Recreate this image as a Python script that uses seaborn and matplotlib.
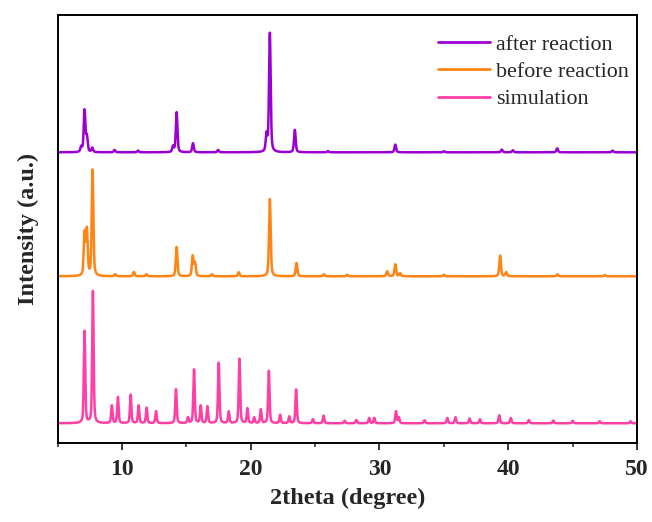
import numpy as np
import pandas as pd
import matplotlib
matplotlib.use("Agg")
import matplotlib.pyplot as plt
import seaborn as sns
from matplotlib.ticker import MultipleLocator

# ---- data (peak position in 2theta, peak height in a.u.) ----
sim_pos = [7.10, 7.75, 9.22, 9.69, 10.68, 11.30, 11.92, 12.65, 14.20, 15.13, 15.60, 16.12,
           16.64, 17.52, 18.30, 19.13, 19.75, 20.27, 20.79, 21.41, 22.29, 23.00, 23.53,
           24.83, 25.66, 27.3, 28.2, 29.2, 29.6, 31.28, 31.5, 33.5, 35.27, 35.9, 37.0,
           37.8, 39.3, 40.2, 41.6, 43.5, 45.0, 47.1, 49.5]
sim_int = [92, 132, 17.7, 26, 28.4, 17.7, 15.4, 12, 34, 5.7, 53.7, 17.4,
           16.7, 60.4, 11.7, 64.4, 14.7, 5.7, 13.7, 52.4, 8.4, 6.7, 33.7,
           4, 7.7, 2.5, 3.3, 5.3, 5.3, 12, 6, 3, 5.3, 6, 4.7,
           4, 8, 5.3, 3.3, 2.7, 2.5, 2, 2]

bef_pos = [7.10, 7.28, 7.72, 9.48, 10.93, 11.90, 14.25, 15.50, 15.68, 17.0, 19.07, 21.49,
           23.56, 25.70, 27.5, 30.60, 31.23, 31.60, 35.0, 39.37, 39.84, 43.83, 47.5]
bef_int = [42, 45, 106, 2, 4.3, 2, 29.3, 20, 13, 2, 4, 77.3,
           13.3, 2, 1.5, 5, 12, 3, 1.5, 20.7, 4, 2, 1.2]

aft_pos = [6.84, 7.10, 7.28, 7.70, 9.43, 11.25, 13.97, 14.25, 15.52, 17.47, 21.23, 21.49,
           23.43, 26.0, 31.23, 35.0, 39.50, 40.36, 43.80, 48.10]
aft_int = [5, 41.7, 15, 4.3, 2.3, 1.7, 5.7, 40, 9, 2.3, 16.7, 119,
           22.4, 1.2, 7.7, 1.0, 2.7, 2, 4, 1.7]

series_names = ["after reaction", "before reaction", "simulation"]
series_offsets = [271, 147, 0]
series_colors = ["#9B00D2", "#FF8414", "#FF3FA6"]
series_fwhm = [0.15, 0.15, 0.13]

x_ticks = [10, 20, 30, 40, 50]

# ---- build profiles from the peak lists ----
theta = np.arange(5.0, 50.0001, 0.01)


def profile(pos, inten, fwhm):
    y = np.zeros_like(theta)
    g = fwhm / 2.3548
    for p, h in zip(pos, inten):
        lor = 1.0 / (1.0 + ((theta - p) / (fwhm / 2)) ** 2)
        gau = np.exp(-0.5 * ((theta - p) / g) ** 2)
        y += h * (0.55 * gau + 0.45 * lor)
    return y


peak_sets = [(aft_pos, aft_int), (bef_pos, bef_int), (sim_pos, sim_int)]
frames = []
for name, off, fw, (pp, ii) in zip(series_names, series_offsets, series_fwhm, peak_sets):
    frames.append(pd.DataFrame({"2theta": theta,
                                "Intensity": profile(pp, ii, fw) + off,
                                "series": name}))
df = pd.concat(frames, ignore_index=True)

# ---- plot ----
sns.set_style("ticks")
plt.rcParams["font.family"] = ["Liberation Serif", "DejaVu Serif"]

fig = plt.figure(figsize=(6.52, 5.22), dpi=100)
ax = fig.add_axes([0.0882, 0.1508, 0.8888, 0.8210])

sns.lineplot(data=df, x="2theta", y="Intensity", hue="series",
             hue_order=series_names, palette=series_colors,
             linewidth=1.8, ax=ax, estimator=None, sort=False)

ax.set_xlim(5, 50)
ax.set_ylim(-20, 408.6)
ax.set_xticks(x_ticks)
ax.xaxis.set_minor_locator(MultipleLocator(5))
ax.set_yticks([])
ax.tick_params(axis="x", which="major", direction="out", length=5, width=1.3,
               labelsize=17, pad=6)
ax.tick_params(axis="x", which="minor", direction="out", length=3, width=1.1)
for lab in ax.get_xticklabels():
    lab.set_fontweight("bold")
for sp in ax.spines.values():
    sp.set_visible(True)
    sp.set_linewidth(1.4)
    sp.set_color("black")

ax.set_xlabel("2theta (degree)", fontsize=17.5, fontweight="bold", labelpad=6)
ax.set_ylabel("Intensity (a.u.)", fontsize=17.5, fontweight="bold", labelpad=13)

leg = ax.legend(loc="upper right", frameon=False, fontsize=15.8,
                handlelength=2.4, handletextpad=0.25, labelspacing=0.32,
                borderaxespad=0.3, bbox_to_anchor=(1.012, 0.99))
for line in leg.get_lines():
    line.set_linewidth(2.0)

fig.savefig("out.png", dpi=100)
